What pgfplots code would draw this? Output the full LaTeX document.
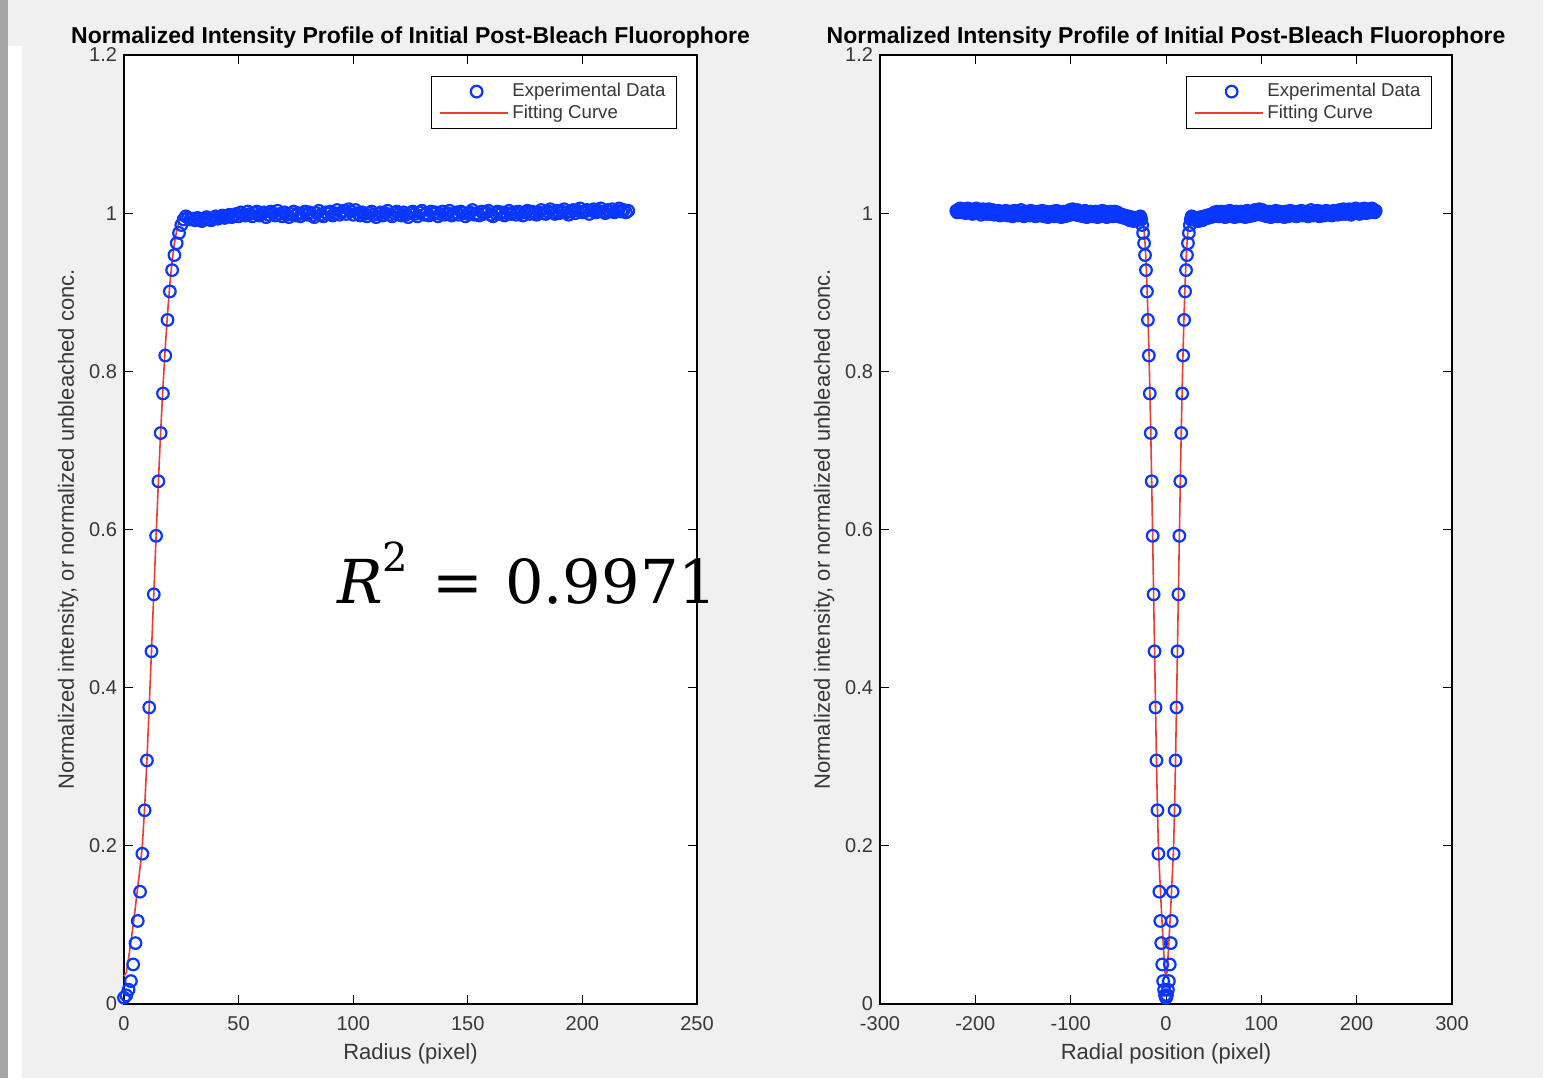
\documentclass[border=0pt]{standalone}
\usepackage{fontspec}
\setmainfont{Liberation Sans}
\newfontfamily\rfont{DejaVu Serif}
\usepackage{pgfplots}
\usepackage{pgfplotstable}
\pgfplotsset{compat=1.18}
\definecolor{figbg}{RGB}{240,240,240}
\definecolor{mblue}{RGB}{10,55,255}
\definecolor{mred}{RGB}{238,60,48}
\definecolor{tickgray}{RGB}{55,55,55}

\pgfplotstableread[row sep=\\]{
r y\\
0 0.008\\ 1 0.011\\ 2 0.018\\ 3 0.029\\ 4 0.050\\ 5 0.077\\ 6 0.105\\ 7 0.142\\ 8 0.190\\ 9 0.245\\
10 0.308\\ 11 0.375\\ 12 0.446\\ 13 0.518\\ 14 0.592\\ 15 0.661\\ 16 0.722\\ 17 0.772\\ 18 0.820\\ 19 0.865\\
20 0.901\\ 21 0.928\\ 22 0.947\\ 23 0.962\\ 24 0.975\\ 25 0.985\\ 26 0.992\\
27 0.996\\ 28 0.994\\ 29 0.992\\ 30 0.993\\ 31 0.991\\ 32 0.994\\ 33 0.992\\ 34 0.990\\ 35 0.993\\ 36 0.995\\
37 0.992\\ 38 0.991\\ 39 0.994\\ 40 0.996\\ 41 0.993\\ 42 0.995\\ 43 0.997\\ 44 0.994\\ 45 0.996\\ 46 0.998\\
47 0.995\\ 48 0.997\\ 49 0.999\\ 50 0.996\\ 51 1.001\\ 52 0.998\\ 53 0.997\\ 54 1.002\\ 55 0.999\\ 56 0.996\\
57 1.000\\ 58 1.002\\ 59 0.997\\ 60 0.999\\ 61 1.001\\ 62 0.995\\ 63 0.998\\ 64 1.002\\ 65 1.000\\ 66 0.997\\
67 1.003\\ 68 0.999\\ 69 0.996\\ 70 1.001\\ 71 0.998\\ 72 0.995\\ 73 0.999\\ 74 1.002\\ 75 0.997\\ 76 1.000\\
77 0.996\\ 78 0.999\\ 79 1.002\\ 80 0.998\\ 81 1.001\\ 82 0.997\\ 83 0.995\\ 84 1.000\\ 85 1.003\\ 86 0.998\\
87 0.996\\ 88 1.001\\ 89 0.999\\ 90 1.002\\ 91 0.997\\ 92 1.000\\ 93 1.004\\ 94 0.998\\ 95 1.001\\ 96 1.003\\
97 0.999\\ 98 1.005\\ 99 1.002\\ 100 0.998\\ 101 1.004\\ 102 1.000\\ 103 0.997\\ 104 1.001\\ 105 0.999\\ 106 0.996\\
107 1.000\\ 108 1.002\\ 109 0.998\\ 110 0.995\\ 111 0.999\\ 112 1.001\\ 113 0.997\\ 114 1.000\\ 115 1.003\\ 116 0.998\\
117 0.996\\ 118 1.000\\ 119 1.002\\ 120 0.999\\ 121 0.997\\ 122 1.001\\ 123 0.998\\ 124 0.995\\ 125 1.000\\ 126 1.002\\
127 0.999\\ 128 0.996\\ 129 1.001\\ 130 1.003\\ 131 0.998\\ 132 1.000\\ 133 0.997\\ 134 1.002\\ 135 0.999\\ 136 1.001\\
137 0.996\\ 138 0.999\\ 139 1.002\\ 140 0.998\\ 141 1.000\\ 142 1.003\\ 143 0.997\\ 144 0.999\\ 145 1.001\\ 146 0.998\\
147 1.002\\ 148 1.000\\ 149 0.996\\ 150 0.999\\ 151 1.001\\ 152 1.004\\ 153 0.998\\ 154 1.000\\ 155 0.997\\ 156 1.002\\
157 0.999\\ 158 1.001\\ 159 1.003\\ 160 0.998\\ 161 0.996\\ 162 1.000\\ 163 1.002\\ 164 0.999\\ 165 1.001\\ 166 0.997\\
167 1.000\\ 168 1.003\\ 169 0.999\\ 170 1.001\\ 171 0.998\\ 172 1.002\\ 173 1.000\\ 174 0.997\\ 175 1.001\\ 176 1.003\\
177 0.999\\ 178 1.002\\ 179 1.000\\ 180 0.998\\ 181 1.001\\ 182 1.004\\ 183 1.000\\ 184 0.999\\ 185 1.002\\ 186 1.005\\
187 1.001\\ 188 0.999\\ 189 1.003\\ 190 1.000\\ 191 1.002\\ 192 1.005\\ 193 1.001\\ 194 0.998\\ 195 1.002\\ 196 1.004\\
197 1.000\\ 198 1.003\\ 199 1.006\\ 200 1.001\\ 201 1.002\\ 202 1.004\\ 203 0.999\\ 204 1.003\\ 205 1.005\\ 206 1.001\\
207 1.003\\ 208 1.006\\ 209 1.002\\ 210 1.000\\ 211 1.004\\ 212 1.002\\ 213 1.005\\ 214 1.001\\ 215 1.003\\ 216 1.006\\
217 1.002\\ 218 1.004\\ 219 1.001\\ 220 1.003\\
}\expdata

\pgfplotstableread[row sep=\\]{
r y\\
0 0.035\\ 1 0.040\\ 2 0.058\\ 3 0.078\\ 4 0.100\\ 5 0.123\\ 6 0.148\\ 7 0.172\\ 8 0.200\\ 9 0.248\\
10 0.308\\ 11 0.376\\ 12 0.447\\ 13 0.519\\ 14 0.591\\ 15 0.660\\ 16 0.724\\ 17 0.780\\ 18 0.830\\ 19 0.873\\
20 0.910\\ 21 0.940\\ 22 0.962\\ 23 0.978\\ 24 0.989\\ 25 0.995\\ 26 0.998\\ 27 1.000\\ 220 1.000\\
}\fitdata

\pgfplotsset{
  matlab/.style={
    scale only axis,
    height=474.5pt,
    ymin=0, ymax=1.2,
    ytick={0,0.2,0.4,0.6,0.8,1,1.2},
    tick align=inside,
    major tick length=4.5pt,
    every tick/.style={black, line width=0.5pt},
    axis line style={black, line width=0.6pt},
    /pgf/number format/assume math mode=true,
    tick label style={font=\fontsize{10}{12}\selectfont, text=tickgray},
    xticklabel style={yshift=-2.5pt},
    label style={font=\fontsize{11}{13}\selectfont, text=tickgray},
    ylabel style={yshift=-1.5pt},
    title style={font=\fontsize{11.5}{13}\selectfont\bfseries, text=black, yshift=-6pt},
    title={Normalized Intensity Profile of Initial Post-Bleach Fluorophore},
    ylabel={Normalized intensity, or normalized unbleached conc.},
    axis background/.style={fill=white},
    clip=false,
    legend cell align=left,
    legend style={at={(0.965,0.978)}, anchor=north east, draw=black, line width=0.5pt,
      fill=white, font=\fontsize{9.3}{10}\selectfont, inner xsep=3.5pt, inner ysep=1.5pt, row sep=-1.5pt,
      text=tickgray},
  },
  expstyle/.style={only marks, mark=o, mark size=2.9pt, color=mblue,
    mark options={solid, line width=1.1pt},
    legend image code/.code={\draw[mark repeat=2,mark phase=2,##1] plot coordinates {(0pt,0pt) (18.5pt,0pt) (34pt,0pt)};}},
  fitstyle/.style={no marks, color=mred, line width=0.8pt,
    legend image code/.code={\draw[##1] (0pt,0pt) -- (34pt,0pt);}},
}

\begin{document}
\begin{tikzpicture}
\fill[figbg] (0,0) rectangle (778.5pt,539pt);
\fill[black!35] (0,0) rectangle (4pt,539pt);
\fill[white] (4pt,0) rectangle (11pt,516pt);
\fill[white] (771.5pt,0) rectangle (778.5pt,539pt);

\begin{axis}[matlab,
  at={(62pt,37pt)}, anchor=south west,
  width=286.5pt,
  xmin=0, xmax=250,
  xtick={0,50,100,150,200,250},
  xlabel={Radius (pixel)},
]
\node[anchor=base west, inner sep=0pt, text=black, font=\rfont\fontsize{30.3}{32}\selectfont]
  at (axis cs:92.9,0.507)
  {\textit{R}\raisebox{16pt}{\fontsize{20}{20}\selectfont 2}\hspace{12pt}=\hspace{11pt}0.9971};
\addplot[expstyle] table[x=r, y=y] {\expdata};
\addlegendentry{Experimental Data}
\addplot[fitstyle] table[x=r, y=y] {\fitdata};
\addlegendentry{Fitting Curve}
\end{axis}

\begin{axis}[matlab,
  at={(440pt,37pt)}, anchor=south west,
  width=286pt,
  xmin=-300, xmax=300,
  xtick={-300,-200,-100,0,100,200,300},
  xlabel={Radial position (pixel)},
]
\addplot[expstyle] table[x expr=-\thisrow{r}, y=y] {\expdata};
\addlegendentry{Experimental Data}
\addplot[expstyle, forget plot] table[x=r, y=y] {\expdata};
\addplot[fitstyle] table[x expr=-\thisrow{r}, y=y] {\fitdata};
\addlegendentry{Fitting Curve}
\addplot[fitstyle, forget plot] table[x=r, y=y] {\fitdata};
\end{axis}
\end{tikzpicture}
\end{document}
